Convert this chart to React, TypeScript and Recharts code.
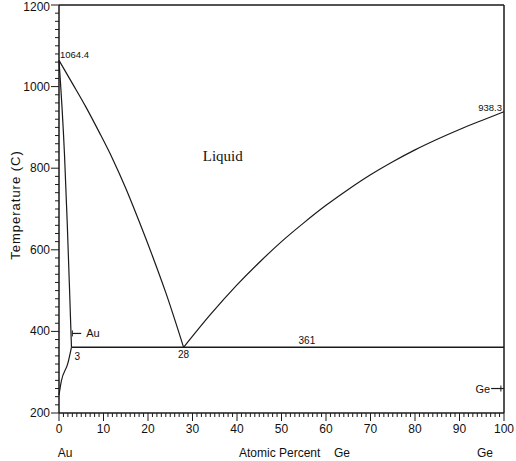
import { ComposedChart, Line, Scatter, XAxis, YAxis, ReferenceLine, ReferenceDot } from "recharts";

// liquidus, Au side (atomic % Ge, temperature C)
const liqAuX = [0, 3, 6, 9, 12, 15, 18, 21, 24, 28];
const liqAuT = [1064.4, 1008, 951, 889, 824, 751, 670, 585, 495, 361];
// liquidus, Ge side
const liqGeX = [28, 34, 40, 45, 50, 55, 60, 65, 70, 75, 80, 85, 90, 95, 100];
const liqGeT = [361, 441, 514, 569, 620, 666, 709, 748, 784, 816, 845, 871, 895, 917, 938.3];
// solidus and solvus of (Au)
const solidusX = [0, 1.24, 1.84, 2.36, 2.8];
const solidusT = [1064.4, 832, 669, 506, 361];
const solvusX = [0, 0.5, 2, 2.8];
const solvusT = [244, 277, 322, 361];
// eutectic
const eutecticX = [2.8, 100];
const eutecticT = [361, 361];
// phase markers
const auMarkX = [3, 5];
const auMarkT = [395, 395];
const geMarkX = [97.1, 100];
const geMarkT = [260, 260];

const xMajor = [0, 10, 20, 30, 40, 50, 60, 70, 80, 90, 100];
const yMajor = [200, 400, 600, 800, 1000, 1200];
const xMinor = Array.from({ length: 101 }, (_, i) => i).filter((v) => v % 10 !== 0);
const yMinor = Array.from({ length: 51 }, (_, i) => 200 + i * 20).filter((v) => v % 200 !== 0);

const pts = (xs: number[], ts: number[]) => xs.map((x, i) => ({ x, t: ts[i] }));

const ink = "#1a1a1a";
const sans = "'Liberation Sans', Arial, sans-serif";

const XTick = (props: any) => {
  const { x, y, payload } = props;
  return (
    <g>
      <line x1={x} y1={y} x2={x} y2={y + 8} stroke={ink} />
      <text x={x} y={y + 20} textAnchor="middle" fontSize={12} fontFamily={sans} fill="#111">
        {payload.value}
      </text>
    </g>
  );
};

const YTick = (props: any) => {
  const { x, y, payload } = props;
  const shift = payload.value === 1200 ? 6 : 4;
  return (
    <g>
      <line x1={x} y1={y} x2={x - 8} y2={y} stroke={ink} />
      <text x={x - 9} y={y + shift} textAnchor="end" fontSize={12} fontFamily={sans} fill="#111">
        {payload.value}
      </text>
    </g>
  );
};

const XTitle = (props: any) => {
  const { y } = props.viewBox;
  return (
    <g fontFamily={sans} fontSize={12} fill="#111">
      <text x={65} y={y + 44} textAnchor="middle">Au</text>
      <text x={239} y={y + 44}>Atomic Percent</text>
      <text x={334} y={y + 44}>Ge</text>
      <text x={485} y={y + 44} textAnchor="middle">Ge</text>
    </g>
  );
};

const YTitle = () => (
  <text
    x={20}
    y={205}
    transform="rotate(-90 20 205)"
    textAnchor="middle"
    fontFamily={sans}
    fontSize={13}
    letterSpacing={1}
    fill="#111"
  >
    Temperature (C)
  </text>
);

const note = (text: string, dx: number, dy: number, anchor: string, size = 10, family = sans) =>
  (p: any) => (
    <text
      x={p.viewBox.x + dx}
      y={p.viewBox.y + dy}
      textAnchor={anchor}
      fontSize={size}
      fontFamily={family}
      fill="#111"
    >
      {text}
    </text>
  );

const vTick = (p: any) => (
  <line x1={p.cx} y1={p.cy - 3} x2={p.cx} y2={p.cy + 3} stroke={ink} />
);
const downTick = (p: any) => (
  <line x1={p.cx} y1={p.cy} x2={p.cx} y2={p.cy + 4} stroke={ink} />
);
const leftTick = (p: any) => (
  <line x1={p.cx} y1={p.cy} x2={p.cx - 4} y2={p.cy} stroke={ink} />
);

const curve = (xs: number[], ts: number[], key: string, w = 1.2) => (
  <Line
    key={key}
    data={pts(xs, ts)}
    dataKey="t"
    type="monotone"
    stroke={ink}
    strokeWidth={w}
    dot={false}
    activeDot={false}
    isAnimationActive={false}
  />
);

export default function App() {
  return (
    <div style={{ position: "absolute", left: 0, top: 0, background: "#fff" }}>
      <ComposedChart width={516} height={461} margin={{ top: 5, right: 12, left: 0, bottom: 0 }}>
        <XAxis
          type="number"
          dataKey="x"
          domain={[0, 100]}
          ticks={xMajor}
          interval={0}
          height={48}
          tickSize={0}
          tickMargin={0}
          tickLine={false}
          tick={<XTick />}
          axisLine={{ stroke: ink, strokeWidth: 1.5 }}
          label={<XTitle />}
        />
        <YAxis
          type="number"
          dataKey="t"
          domain={[200, 1200]}
          ticks={yMajor}
          interval={0}
          width={59}
          tickSize={0}
          tickMargin={0}
          tickLine={false}
          tick={<YTick />}
          axisLine={{ stroke: ink, strokeWidth: 1.5 }}
          label={<YTitle />}
        />
        <ReferenceLine y={1200} stroke={ink} strokeWidth={1.5} />
        <ReferenceLine x={100} stroke={ink} strokeWidth={1.5} />
        <Scatter
          data={xMinor.map((x) => ({ x, t: 200 }))}
          dataKey="t"
          shape={downTick}
          isAnimationActive={false}
        />
        <Scatter
          data={yMinor.map((t) => ({ x: 0, t }))}
          dataKey="t"
          shape={leftTick}
          isAnimationActive={false}
        />
        {curve(liqAuX, liqAuT, "liqAu")}
        {curve(liqGeX, liqGeT, "liqGe")}
        {curve(solidusX, solidusT, "solidus")}
        {curve(solvusX, solvusT, "solvus")}
        {curve(eutecticX, eutecticT, "eutectic", 1.6)}
        {curve(auMarkX, auMarkT, "auMark")}
        {curve(geMarkX, geMarkT, "geMark")}
        <ReferenceDot x={auMarkX[0]} y={auMarkT[0]} r={3} shape={vTick} />
        <ReferenceDot x={99.3} y={geMarkT[0]} r={3} shape={vTick} />
        <ReferenceDot x={auMarkX[1]} y={auMarkT[1]} r={0} label={note("Au", 5, 4, "start", 11)} />
        <ReferenceDot x={geMarkX[0]} y={geMarkT[0]} r={0} label={note("Ge", -1, 4, "end", 11)} />
        <ReferenceDot x={liqAuX[0]} y={liqAuT[0]} r={0} label={note("1064.4", 1, -2, "start", 9.5)} />
        <ReferenceDot x={100} y={938.3} r={0} label={note("938.3", -2, -1, "end", 9.5)} />
        <ReferenceDot x={28} y={361} r={0} label={note("28", 0, 11, "middle", 10)} />
        <ReferenceDot x={eutecticX[0]} y={361} r={0} label={note("3", 3, 13, "start", 10)} />
        <ReferenceDot x={55.7} y={361} r={0} label={note("361", 0, -3, "middle", 10)} />
        <ReferenceDot
          x={36.8}
          y={830}
          r={0}
          label={note("Liquid", 0, 5, "middle", 15, "'Liberation Serif', 'Times New Roman', serif")}
        />
      </ComposedChart>
    </div>
  );
}
